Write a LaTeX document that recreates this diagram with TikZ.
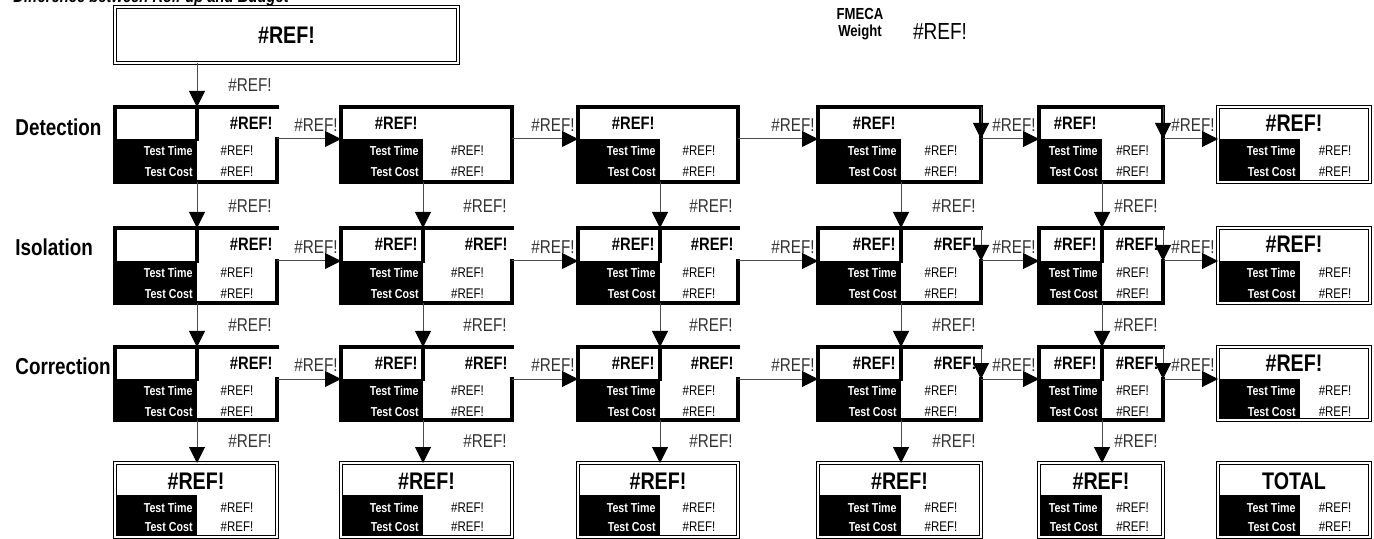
\documentclass[tikz,border=0pt]{standalone}
\usepackage{fontspec}
\setmainfont{Liberation Sans}[FakeStretch=0.82]
\usetikzlibrary{arrows.meta}
\newcommand{\errref}{\#REF!}
\tikzset{
	cell/.style={inner sep=0pt, outer sep=0pt, anchor=north west},
	key/.style={cell, fill=black},
	edge/.style={line width=1.7pt, line cap=rect},
	dbl/.style={double, line width=0.7pt, double distance=0.8pt},
	flow/.style={draw=black!70, line width=0.5pt, -{Triangle[length=8pt, width=8pt, color=black]}},
	txt/.style={inner sep=0pt},
	head/.style={txt, font=\fontsize{9}{10}\selectfont\bfseries},
	big/.style={txt, font=\fontsize{12}{13}\selectfont\bfseries},
	keytxt/.style={txt, text=white, anchor=east, font=\fontsize{6.5}{7}\selectfont\bfseries},
	val/.style={txt, font=\fontsize{7}{8}\selectfont},
	lbl/.style={txt, anchor=east, text=black!80, font=\fontsize{9.3}{10}\selectfont},
	rowname/.style={txt, anchor=west, font=\fontsize{11.5}{12}\selectfont\bfseries}
}
\begin{document}
\begin{tikzpicture}[x=0.5pt, y=-0.5pt]
	\useasboundingbox (0,0) rectangle (1374,539);

	% ==========================================
	% HEADER
	% ==========================================
	\node[txt, anchor=base west, font=\fontsize{9}{10}\selectfont\bfseries\itshape] (caption) at (13,2.5) {Difference between Roll-up and Budget};
	\node[cell, draw, dbl, big, minimum width=171.5pt, minimum height=28pt] (title) at (115,7) {\errref};
	\node[txt, align=center, font=\fontsize{8}{8.5}\selectfont\bfseries] (fmeca) at (860,24) {FMECA\\Weight};
	\node[txt, font=\fontsize{11.6}{12}\selectfont] (weight) at (940,32) {\errref};

	% --- Row names ---
	\node[rowname] (det) at (15,127) {Detection};
	\node[rowname] (iso) at (15,247) {Isolation};
	\node[rowname] (cor) at (15,366) {Correction};

	% ==========================================
	% GRID: Detection / Isolation / Correction
	% ==========================================
	\foreach \n/\r/\T/\K/\B in {1/d/107/139/182, 2/i/228/261/303, 3/c/347/379/420}{
		\foreach \c/\L/\S/\R in {1/115/197/277, 2/341/423/512, 3/578/660/738, 4/818/901/981, 5/1039/1102/1163, 6/1218/1300/1370}{
			\node[cell, minimum width={(\R-\L)*0.5pt}, minimum height={(\B-\T)*0.5pt}] (\r\c) at (\L,\T) {};
			\node[key, minimum width={(\S-\L)*0.5pt}, minimum height={(\B-\K)*0.5pt}] (\r\c-key) at (\L,\K) {};
			\ifnum\c=6
				\draw[dbl] (\r\c.north west) rectangle (\r\c.south east);
				\node[big] (\r\c-head) at ({(\L+\R)/2}, {(\T+\K)/2}) {\errref};
			\else
				\pgfmathtruncatemacro\split{or(\n>1,\c==1)}
				\pgfmathtruncatemacro\full{and(\n==1,\c>1)}
				\draw[edge] (\r\c.south west) -- (\r\c.north west) -- (\r\c.north east);
				\ifnum\full=1
					\draw[edge] (\r\c.north east) -- (\r\c.east |- \r\c-key.north);
				\fi
				\draw[edge] (\r\c.east |- \r\c-key.north) -- (\r\c.south east) -- (\r\c.south west);
				\ifnum\split=1
					\draw[edge] (\r\c-key.north east) -- (\r\c-key.east |- \r\c.north);
					\node[head, anchor=east] (\r\c-right) at (\R-4, {(\T+\K)/2}) {\errref};
				\fi
				\ifnum\c>1
					\node[head, anchor=east] (\r\c-left) at (\S-5, {(\T+\K)/2}) {\errref};
				\fi
			\fi
			\node[keytxt] (\r\c-tt) at (\S-4, \K+12) {Test Time};
			\node[keytxt] (\r\c-tc) at (\S-4, \K+33) {Test Cost};
			\node[val] (\r\c-vt) at ({(\S+\R)/2}, \K+12) {\errref};
			\node[val] (\r\c-vc) at ({(\S+\R)/2}, \K+33) {\errref};
			% arrow labels
			\pgfmathtruncatemacro\up{and(\c<6, or(\n>1,\c==1))}
			\ifnum\up=1
				\node[lbl] (\r\c-down) at (\R-5, \T-22) {\errref};
			\fi
			\ifnum\c>1
				\node[lbl] (\r\c-in) at (\L-3, \K-14) {\errref};
			\fi
		}
	}

	% ==========================================
	% TOTALS
	% ==========================================
	\foreach \c/\L/\S/\R/\word in {1/115/197/277/\errref, 2/341/423/512/\errref, 3/578/660/738/\errref, 4/818/901/981/\errref, 5/1039/1102/1163/\errref, 6/1218/1300/1370/TOTAL}{
		\node[cell, minimum width={(\R-\L)*0.5pt}, minimum height=37pt] (t\c) at (\L,463) {};
		\node[key, minimum width={(\S-\L)*0.5pt}, minimum height=21pt] (t\c-key) at (\L,495) {};
		\draw[dbl] (t\c.north west) rectangle (t\c.south east);
		\node[big] (t\c-head) at ({(\L+\R)/2}, 481) {\word};
		\node[keytxt] (t\c-tt) at (\S-4, 508) {Test Time};
		\node[keytxt] (t\c-tc) at (\S-4, 527) {Test Cost};
		\node[val] (t\c-vt) at ({(\S+\R)/2}, 508) {\errref};
		\node[val] (t\c-vc) at ({(\S+\R)/2}, 527) {\errref};
		\ifnum\c<6
			\node[lbl] (t\c-down) at (\R-5, 441) {\errref};
		\fi
	}

	% ==========================================
	% ARROWS
	% ==========================================
	\draw[flow] (title.south -| d1-key.east) -- (d1-key.east |- d1.north);
	\foreach \c in {1,...,5}{
		\draw[flow] (d\c-key.south east) -- (i\c-key.east |- i\c.north);
		\draw[flow] (i\c-key.south east) -- (c\c-key.east |- c\c.north);
		\draw[flow] (c\c-key.south east) -- (t\c-key.east |- t\c.north);
	}
	\foreach \r in {d,i,c}{
		\foreach \c [evaluate=\c as \m using int(\c+1)] in {1,...,5}
			\draw[flow] (\r\c.east |- \r\c-key.north) -- (\r\m.west |- \r\m-key.north);
		\foreach \c in {4,5}
			\draw[flow] (\r\c.north east) -- (\r\c.east |- \r\c-key.north);
	}

\end{tikzpicture}
\end{document}
